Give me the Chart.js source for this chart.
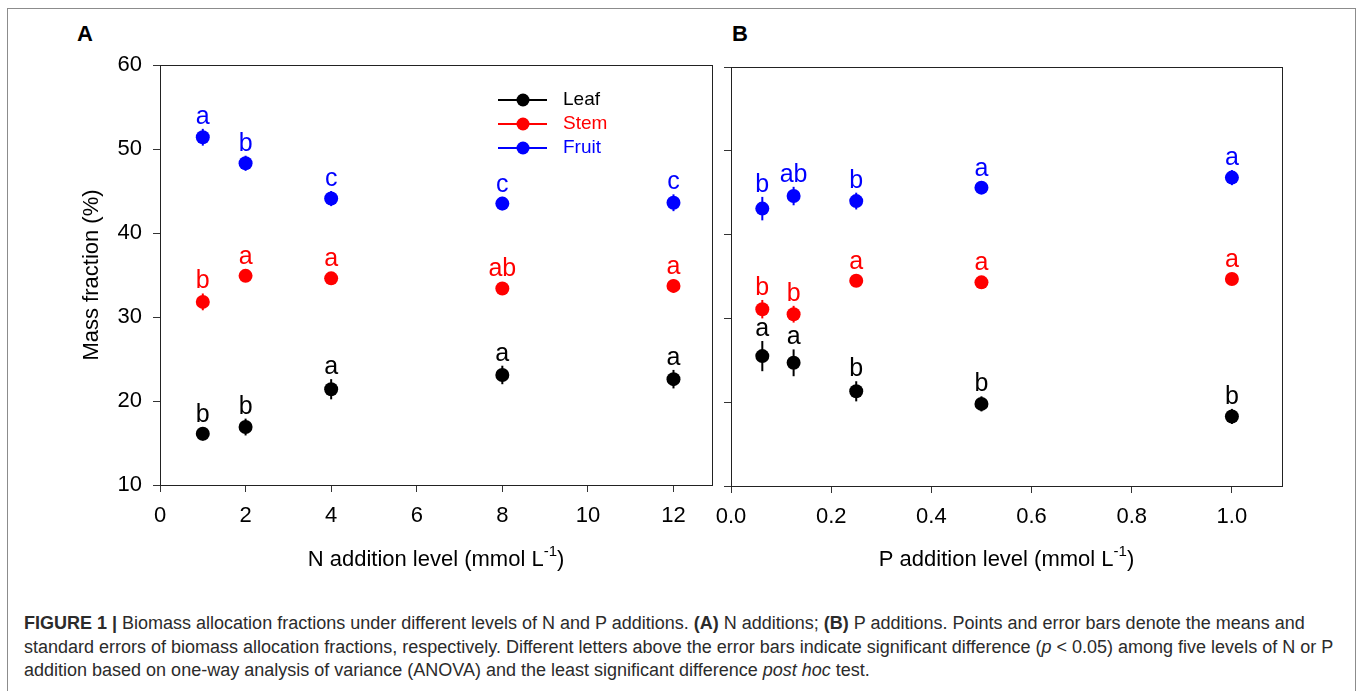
<!DOCTYPE html>
<html>
<head>
<meta charset="utf-8">
<script src="https://cdn.jsdelivr.net/npm/chart.js@4.4.1/dist/chart.umd.min.js"></script>
<style>
  body { margin: 0; background: #fff; font-family: "Liberation Sans", Arial, sans-serif; }
  #page { position: relative; width: 1358px; height: 691px; overflow: hidden; }
  #frame { position: absolute; left: 7px; top: 8px; width: 1347px; height: 700px; border: 1px solid #8c8c8c; }
  canvas { position: absolute; top: 0; }
  #chartA { left: 0; }
  #chartB { left: 700px; }
  .panel { position: absolute; top: 23px; font-weight: bold; font-size: 22px; line-height: 22px; color: #000; }
  #caption { position: absolute; left: 24px; top: 612px; font-size: 18px; line-height: 23.5px; color: #2b2b2b; white-space: nowrap; }
</style>
</head>
<body>
<div id="page">
  <div id="frame"></div>
  <div class="panel" style="left:77px">A</div>
  <div class="panel" style="left:732px">B</div>
  <canvas id="chartA" width="722" height="600"></canvas>
  <canvas id="chartB" width="658" height="600"></canvas>
  <div id="caption">
    <b>FIGURE 1 |</b> Biomass allocation fractions under different levels of N and P additions. <b>(A)</b> N additions; <b>(B)</b> P additions. Points and error bars denote the means and<br>
    standard errors of biomass allocation fractions, respectively. Different letters above the error bars indicate significant difference (<i>p</i> &lt; 0.05) among five levels of N or P<br>
    addition based on one-way analysis of variance (ANOVA) and the least significant difference <i>post hoc</i> test.
  </div>
</div>
<script>
// N additions (panel A)
const nLevels = [1, 2, 4, 8, 12];
const nLeaf = [16.1, 16.9, 21.4, 23.1, 22.6];
const nLeafSe = [0.8, 1.0, 1.2, 1.1, 1.1];
const nLeafSig = ['b', 'b', 'a', 'a', 'a'];
const nStem = [31.8, 34.9, 34.6, 33.4, 33.7];
const nStemSe = [1.0, 0.5, 0.5, 0.5, 0.8];
const nStemSig = ['b', 'a', 'a', 'ab', 'a'];
const nFruit = [51.4, 48.3, 44.1, 43.5, 43.6];
const nFruitSe = [1.0, 0.9, 0.9, 0.8, 1.0];
const nFruitSig = ['a', 'b', 'c', 'c', 'c'];

// P additions (panel B)
const pLevels = [0.0625, 0.125, 0.25, 0.5, 1.0];
const pLeaf = [25.5, 24.7, 21.3, 19.8, 18.3];
const pLeafSe = [1.8, 1.6, 1.2, 0.9, 0.9];
const pLeafSig = ['a', 'a', 'b', 'b', 'b'];
const pStem = [31.1, 30.5, 34.5, 34.3, 34.7];
const pStemSe = [1.1, 1.0, 0.4, 0.4, 0.4];
const pStemSig = ['b', 'b', 'a', 'a', 'a'];
const pFruit = [43.1, 44.6, 44.0, 45.6, 46.8];
const pFruitSe = [1.4, 1.1, 1.0, 0.6, 0.9];
const pFruitSig = ['b', 'ab', 'b', 'a', 'a'];

const seriesNames = ['Leaf', 'Stem', 'Fruit'];
const seriesColors = ['#000000', '#ff0000', '#0000ff'];

Chart.defaults.font.family = '"Liberation Sans", Arial, sans-serif';
Chart.defaults.color = '#000';

function makeSet(k, xs, ys, se, sig) {
  return {
    label: seriesNames[k],
    data: xs.map((x, i) => ({ x: x, y: ys[i] })),
    se: se,
    sig: sig,
    backgroundColor: seriesColors[k],
    borderColor: seriesColors[k],
    pointRadius: 7,
    pointHoverRadius: 7,
    pointBorderWidth: 0,
    showLine: false
  };
}

// error bars, significance letters, frame, legend and x title
const decor = {
  id: 'decor',
  beforeDatasetsDraw(chart) {
    const ctx = chart.ctx;
    const ys = chart.scales.y;
    chart.data.datasets.forEach((ds, di) => {
      const meta = chart.getDatasetMeta(di);
      ctx.save();
      ctx.strokeStyle = ds.borderColor;
      ctx.lineWidth = 2;
      meta.data.forEach((pt, i) => {
        const v = ds.data[i].y;
        ctx.beginPath();
        ctx.moveTo(pt.x, ys.getPixelForValue(v + ds.se[i]));
        ctx.lineTo(pt.x, ys.getPixelForValue(v - ds.se[i]));
        ctx.stroke();
      });
      ctx.restore();
    });
  },
  afterDatasetsDraw(chart, args, opts) {
    const ctx = chart.ctx;
    const ys = chart.scales.y;
    const area = chart.chartArea;

    ctx.save();
    ctx.font = '25px "Liberation Sans", Arial, sans-serif';
    ctx.textAlign = 'center';
    ctx.textBaseline = 'alphabetic';
    chart.data.datasets.forEach((ds, di) => {
      const meta = chart.getDatasetMeta(di);
      ctx.fillStyle = ds.borderColor;
      meta.data.forEach((pt, i) => {
        const top = Math.min(ys.getPixelForValue(ds.data[i].y + ds.se[i]), pt.y - 7);
        ctx.fillText(ds.sig[i], pt.x, top - 5);
      });
    });
    ctx.restore();

    // plot frame
    ctx.save();
    ctx.strokeStyle = '#222';
    ctx.lineWidth = 1;
    ctx.strokeRect(area.left + 0.5, area.top + 0.5, area.right - area.left, area.bottom - area.top);
    ctx.restore();

    if (opts.legend) {
      ctx.save();
      ctx.font = '19px "Liberation Sans", Arial, sans-serif';
      ctx.textBaseline = 'middle';
      chart.data.datasets.forEach((ds, di) => {
        const y = opts.legend.y + di * opts.legend.gap;
        const x = opts.legend.x;
        ctx.strokeStyle = ds.borderColor;
        ctx.fillStyle = ds.borderColor;
        ctx.lineWidth = 2;
        ctx.beginPath();
        ctx.moveTo(x, y);
        ctx.lineTo(x + 49, y);
        ctx.stroke();
        ctx.beginPath();
        ctx.arc(x + 25, y, 6.5, 0, Math.PI * 2);
        ctx.fill();
        ctx.fillText(ds.label, x + 65, y);
      });
      ctx.restore();
    }

    if (opts.xTitle) {
      ctx.save();
      ctx.fillStyle = '#000';
      ctx.textBaseline = 'alphabetic';
      const big = '22px "Liberation Sans", Arial, sans-serif';
      const small = '15px "Liberation Sans", Arial, sans-serif';
      ctx.font = big;
      const w1 = ctx.measureText(opts.xTitle).width;
      const w3 = ctx.measureText(')').width;
      ctx.font = small;
      const w2 = ctx.measureText('-1').width;
      let x = (area.left + area.right) / 2 - (w1 + w2 + w3) / 2;
      const base = 566;
      ctx.font = big;
      ctx.fillText(opts.xTitle, x, base);
      x += w1;
      ctx.font = small;
      ctx.fillText('-1', x, base - 10);
      x += w2;
      ctx.font = big;
      ctx.fillText(')', x, base);
      ctx.restore();
    }
  }
};

function makeChart(id, sets, xOpts, panel) {
  return new Chart(document.getElementById(id), {
    type: 'scatter',
    data: { datasets: sets },
    plugins: [decor],
    options: {
      responsive: false,
      animation: false,
      devicePixelRatio: 1,
      layout: { padding: panel.padding },
      plugins: {
        legend: { display: false },
        tooltip: { enabled: false },
        decor: { legend: panel.legend, xTitle: panel.xTitle }
      },
      scales: {
        x: {
          type: 'linear',
          min: 0,
          max: xOpts.max,
          ticks: {
            stepSize: xOpts.step,
            includeBounds: false,
            font: { size: 22 },
            color: '#000',
            padding: 11,
            maxRotation: 0,
            callback: xOpts.format
          },
          grid: { drawOnChartArea: false, drawTicks: true, tickLength: 7, tickColor: '#333' },
          border: { display: true, color: '#333', width: 1 },
          afterFit(scale) {
            scale.height = 60;
            scale.paddingLeft = 0;
            scale.paddingRight = 0;
          }
        },
        y: {
          min: 10,
          max: 60,
          ticks: {
            stepSize: 10,
            display: panel.showY,
            font: { size: 22 },
            color: '#000',
            padding: 11
          },
          grid: { drawOnChartArea: false, drawTicks: true, tickLength: 7, tickColor: '#333' },
          border: { display: true, color: '#333', width: 1 },
          title: {
            display: panel.showY,
            text: 'Mass fraction (%)',
            font: { size: 22 },
            color: '#000',
            padding: { top: 79, bottom: 0 }
          },
          afterFit(scale) {
            scale.width = panel.yWidth;
            scale.paddingTop = 0;
            scale.paddingBottom = 0;
          }
        }
      }
    }
  });
}

makeChart('chartA', [
  makeSet(0, nLevels, nLeaf, nLeafSe, nLeafSig),
  makeSet(1, nLevels, nStem, nStemSe, nStemSig),
  makeSet(2, nLevels, nFruit, nFruitSe, nFruitSig)
], { max: 12.9, step: 2, format: v => String(v) }, {
  padding: { left: 0, top: 65, right: 10, bottom: 55 },
  yWidth: 160,
  showY: true,
  legend: { x: 498, y: 100, gap: 24 },
  xTitle: 'N addition level (mmol L'
});

makeChart('chartB', [
  makeSet(0, pLevels, pLeaf, pLeafSe, pLeafSig),
  makeSet(1, pLevels, pStem, pStemSe, pStemSig),
  makeSet(2, pLevels, pFruit, pFruitSe, pFruitSig)
], { max: 1.1, step: 0.2, format: v => v.toFixed(1) }, {
  padding: { left: 0, top: 67, right: 76, bottom: 54 },
  yWidth: 31,
  showY: false,
  legend: null,
  xTitle: 'P addition level (mmol L'
});
</script>
</body>
</html>
